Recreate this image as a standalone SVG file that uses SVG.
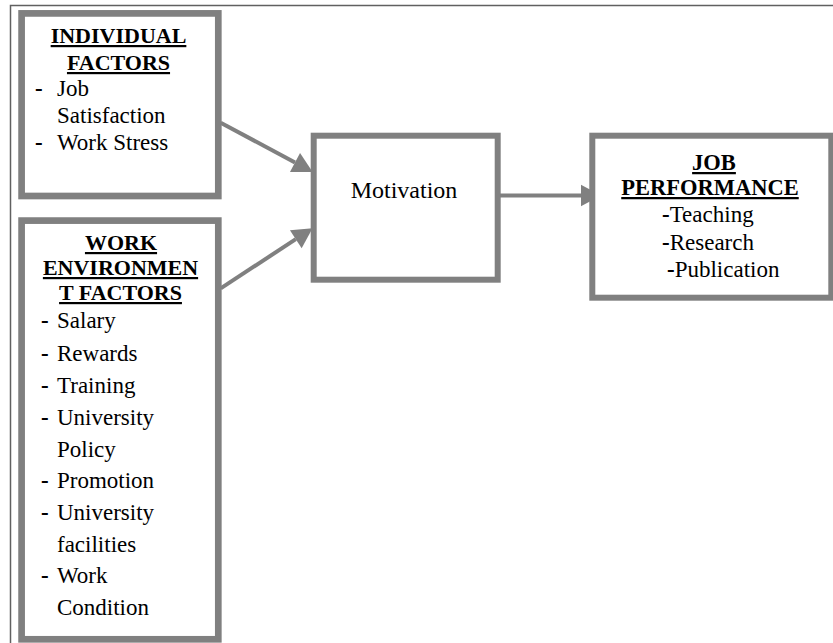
<svg xmlns="http://www.w3.org/2000/svg" width="833" height="643" viewBox="0 0 833 643" font-family="Liberation Serif, serif">
<defs>
<style>
.box{fill:#fff;stroke:#808080}
.h{font-weight:bold;text-decoration:underline;text-anchor:middle}
</style>
<marker id="ah" markerUnits="userSpaceOnUse" viewBox="0 -15 30 30" markerWidth="30" markerHeight="30" refX="0" refY="0" orient="auto" overflow="visible">
<path d="M0,-10.7 L20,0 L0,10.7 Z" fill="#808080"/>
</marker>
</defs>
<rect width="833" height="643" fill="#fff"/>
<path d="M10.5,643 L10.5,5.5 L833,5.5" fill="none" stroke="#606060" stroke-width="1.5"/>

<g id="connectors" stroke="#808080" stroke-width="4" fill="none">
<line x1="220.7" y1="122.7" x2="295" y2="162.5" marker-end="url(#ah)"/>
<line x1="220.7" y1="288.3" x2="295.8" y2="239.2" marker-end="url(#ah)"/>
<line x1="500" y1="195.5" x2="581" y2="195.5" marker-end="url(#ah)"/>
</g>

<g id="individual-factors" font-family="Liberation Serif, serif" font-size="23">
<rect class="box" x="21.6" y="13.4" width="196.7" height="182.6" stroke-width="6.7"/>
<text class="h" font-family="Liberation Serif, serif" font-size="22" x="118.5" y="43">INDIVIDUAL</text>
<text class="h" font-family="Liberation Serif, serif" font-size="22" x="118.5" y="70">FACTORS</text>
<text font-family="Liberation Serif, serif" font-weight="bold" x="35" y="96">-</text>
<text font-family="Liberation Serif, serif" x="57" y="96">Job</text>
<text font-family="Liberation Serif, serif" x="57" y="123">Satisfaction</text>
<text font-family="Liberation Serif, serif" font-weight="bold" x="35" y="150">-</text>
<text font-family="Liberation Serif, serif" x="57" y="150">Work Stress</text>
</g>

<g id="work-environment-factors" font-family="Liberation Serif, serif" font-size="23">
<rect class="box" x="21.6" y="220.6" width="196.7" height="418.7" stroke-width="6.7"/>
<text class="h" font-family="Liberation Serif, serif" font-size="22" x="121" y="250">WORK</text>
<text class="h" font-family="Liberation Serif, serif" font-size="22" x="120.5" y="275">ENVIRONMEN</text>
<text class="h" font-family="Liberation Serif, serif" font-size="22" x="120.5" y="300">T FACTORS</text>
<text font-family="Liberation Serif, serif" font-weight="bold" x="41" y="328">-</text>
<text font-family="Liberation Serif, serif" x="57" y="328">Salary</text>
<text font-family="Liberation Serif, serif" font-weight="bold" x="41" y="361">-</text>
<text font-family="Liberation Serif, serif" x="57" y="361">Rewards</text>
<text font-family="Liberation Serif, serif" font-weight="bold" x="41" y="393">-</text>
<text font-family="Liberation Serif, serif" x="57" y="393">Training</text>
<text font-family="Liberation Serif, serif" font-weight="bold" x="41" y="425">-</text>
<text font-family="Liberation Serif, serif" x="57" y="425">University</text>
<text font-family="Liberation Serif, serif" x="57" y="457">Policy</text>
<text font-family="Liberation Serif, serif" font-weight="bold" x="41" y="488">-</text>
<text font-family="Liberation Serif, serif" x="57" y="488">Promotion</text>
<text font-family="Liberation Serif, serif" font-weight="bold" x="41" y="520">-</text>
<text font-family="Liberation Serif, serif" x="57" y="520">University</text>
<text font-family="Liberation Serif, serif" x="57" y="552">facilities</text>
<text font-family="Liberation Serif, serif" font-weight="bold" x="41" y="583">-</text>
<text font-family="Liberation Serif, serif" x="57" y="583">Work</text>
<text font-family="Liberation Serif, serif" x="57" y="615">Condition</text>
</g>

<g id="motivation" font-family="Liberation Serif, serif" font-size="24">
<rect class="box" x="313.7" y="135.7" width="184" height="144" stroke-width="6"/>
<text font-family="Liberation Serif, serif" text-anchor="middle" x="404" y="198">Motivation</text>
</g>

<g id="job-performance" font-family="Liberation Serif, serif" font-size="23">
<rect class="box" x="592.3" y="135.7" width="239" height="162" stroke-width="6"/>
<text class="h" font-family="Liberation Serif, serif" font-size="22.5" x="714" y="170">JOB</text>
<text class="h" font-family="Liberation Serif, serif" font-size="22.5" x="710" y="195">PERFORMANCE</text>
<text font-family="Liberation Serif, serif" x="662" y="222"><tspan font-weight="bold">-</tspan>Teaching</text>
<text font-family="Liberation Serif, serif" x="662" y="250"><tspan font-weight="bold">-</tspan>Research</text>
<text font-family="Liberation Serif, serif" x="667" y="277"><tspan font-weight="bold">-</tspan>Publication</text>
</g>
</svg>
